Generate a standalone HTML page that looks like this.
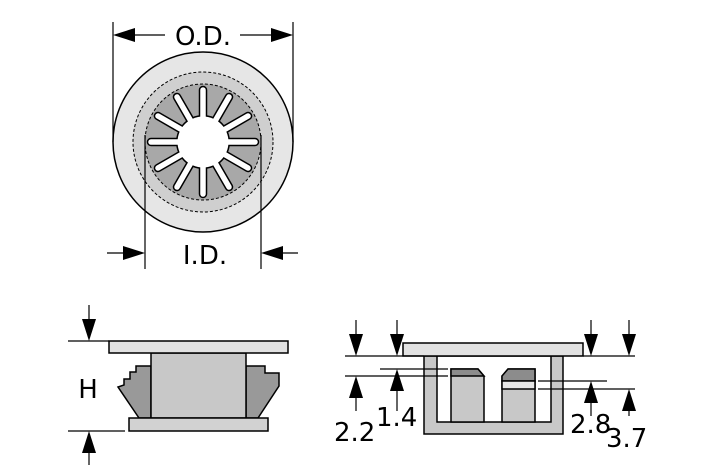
<!DOCTYPE html>
<html><head><style>body{margin:0;background:#fff}svg{display:block}</style></head><body>
<svg width="709" height="472" viewBox="0 0 709 472" xmlns="http://www.w3.org/2000/svg" font-family="'DejaVu Sans','Liberation Sans',sans-serif">
<defs>
<g id="slot"><line x1="203" y1="142" x2="203" y2="90"/></g>
</defs>
<circle cx="203" cy="142" r="90" fill="#e6e6e6" stroke="#000" stroke-width="1.5"/>
<circle cx="203" cy="142" r="70" fill="#cfcfcf" stroke="#000" stroke-width="1" stroke-dasharray="3,2"/>
<circle cx="203" cy="142" r="58" fill="#a8a8a8" stroke="#000" stroke-width="1" stroke-dasharray="3,2"/>
<g stroke="#000" stroke-width="8.5" stroke-linecap="round">
<use href="#slot"/><use href="#slot" transform="rotate(30 203 142)"/><use href="#slot" transform="rotate(60 203 142)"/><use href="#slot" transform="rotate(90 203 142)"/><use href="#slot" transform="rotate(120 203 142)"/><use href="#slot" transform="rotate(150 203 142)"/><use href="#slot" transform="rotate(180 203 142)"/><use href="#slot" transform="rotate(210 203 142)"/><use href="#slot" transform="rotate(240 203 142)"/><use href="#slot" transform="rotate(270 203 142)"/><use href="#slot" transform="rotate(300 203 142)"/><use href="#slot" transform="rotate(330 203 142)"/>
</g>
<circle cx="203" cy="142" r="27" fill="#000"/>
<g stroke="#fff" stroke-width="5.5" stroke-linecap="round">
<use href="#slot"/><use href="#slot" transform="rotate(30 203 142)"/><use href="#slot" transform="rotate(60 203 142)"/><use href="#slot" transform="rotate(90 203 142)"/><use href="#slot" transform="rotate(120 203 142)"/><use href="#slot" transform="rotate(150 203 142)"/><use href="#slot" transform="rotate(180 203 142)"/><use href="#slot" transform="rotate(210 203 142)"/><use href="#slot" transform="rotate(240 203 142)"/><use href="#slot" transform="rotate(270 203 142)"/><use href="#slot" transform="rotate(300 203 142)"/><use href="#slot" transform="rotate(330 203 142)"/>
</g>
<circle cx="203" cy="142" r="25.5" fill="#fff"/>
<g stroke="#000" stroke-width="1.2">
<line x1="113" y1="22" x2="113" y2="142"/><line x1="293" y1="22" x2="293" y2="142"/>
<line x1="145" y1="135" x2="145" y2="269"/><line x1="261" y1="135" x2="261" y2="269"/>
<line x1="165" y1="35" x2="125" y2="35"/>
<line x1="240" y1="35" x2="281" y2="35"/>
<line x1="107" y1="253" x2="133" y2="253"/>
<line x1="298" y1="253" x2="273" y2="253"/>
</g>
<g fill="#000">
<polygon points="113,35 135,28 135,42"/>
<polygon points="293,35 271,28 271,42"/>
<polygon points="145,253 123,246 123,260"/>
<polygon points="261,253 283,246 283,260"/>
</g>
<text x="203" y="45" font-size="26" text-anchor="middle">O.D.</text>
<text x="205" y="264" font-size="26" text-anchor="middle">I.D.</text>
<g stroke="#000" stroke-width="1.5">
<polygon points="136,366 151,366 151,418 139,418 118,387 124,385 124,379 130,379 130,372 136,372" fill="#999"/>
<polygon points="246,366 265,366 265,373 279,373 279,386 258,418 246,418" fill="#999"/>
<rect x="151" y="353" width="95" height="65" fill="#c8c8c8"/>
<rect x="109" y="341" width="179" height="12" fill="#e2e2e2"/>
<rect x="129" y="418" width="139" height="13" fill="#d2d2d2"/>
</g>
<g stroke="#000" stroke-width="1.2">
<line x1="68" y1="341" x2="109" y2="341"/><line x1="68" y1="431" x2="125" y2="431"/>
<line x1="89" y1="305" x2="89" y2="325"/>
<line x1="89" y1="465" x2="89" y2="447"/>
</g>
<g fill="#000">
<polygon points="89,341 82,319 96,319"/>
<polygon points="89,431 82,453 96,453"/>
<polygon points="356,356 349,334 363,334"/>
<polygon points="397,356 390,334 404,334"/>
<polygon points="591,356 584,334 598,334"/>
<polygon points="629,356 622,334 636,334"/>
<polygon points="356,376 349,398 363,398"/>
<polygon points="397,369 390,391 404,391"/>
<polygon points="591,381 584,403 598,403"/>
<polygon points="629,389 622,411 636,411"/>
</g>
<text x="88" y="398" font-size="26" text-anchor="middle">H</text>
<g stroke="#000" stroke-width="1.5">
<rect x="424" y="356" width="139" height="78" fill="#c8c8c8"/>
<rect x="437" y="356" width="114" height="66" fill="#fff"/>
<path d="M451,369 H478 L484,376 V422 H451 Z" fill="#c8c8c8"/>
<path d="M451,369 H478 L484,376 H451 Z" fill="#8c8c8c"/>
<path d="M508,369 H535 V422 H502 V376 Z" fill="#c8c8c8"/>
<path d="M508,369 H535 V381 H502 V376 Z" fill="#8c8c8c"/>
<rect x="502" y="381" width="33" height="8" fill="#e6e6e6"/>
<rect x="403" y="343" width="180" height="13" fill="#e2e2e2"/>
</g>
<g stroke="#000" stroke-width="1.2">
<line x1="345" y1="356" x2="424" y2="356"/><line x1="583" y1="356" x2="635" y2="356"/>
<line x1="380" y1="369" x2="448" y2="369"/><line x1="345" y1="376" x2="448" y2="376"/>
<line x1="538" y1="381" x2="607" y2="381"/><line x1="538" y1="389" x2="635" y2="389"/>
<line x1="356" y1="320" x2="356" y2="340"/>
<line x1="397" y1="320" x2="397" y2="340"/>
<line x1="591" y1="320" x2="591" y2="340"/>
<line x1="629" y1="320" x2="629" y2="340"/>
<line x1="356" y1="411" x2="356" y2="392"/>
<line x1="397" y1="411" x2="397" y2="385"/>
<line x1="591" y1="416" x2="591" y2="397"/>
<line x1="629" y1="416" x2="629" y2="405"/>
</g>
<g font-size="26">
<text x="334" y="441">2.2</text><text x="376" y="426">1.4</text>
<text x="570" y="433">2.8</text><text x="606" y="447">3.7</text>
</g>
</svg>
</body></html>
